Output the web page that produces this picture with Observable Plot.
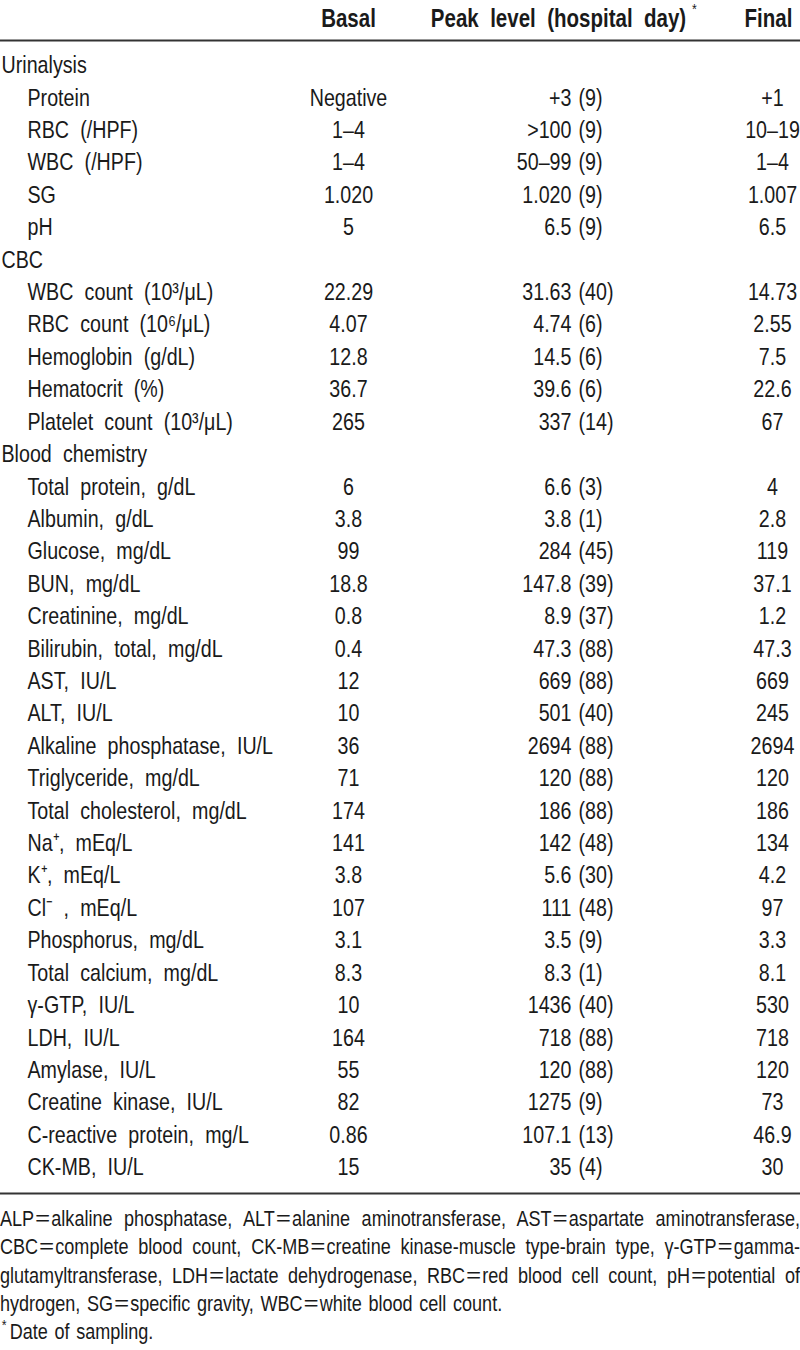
<!DOCTYPE html>
<html>
<head>
<meta charset="utf-8">
<script src="https://cdn.jsdelivr.net/npm/d3@7"></script>
<script src="https://cdn.jsdelivr.net/npm/@observablehq/plot@0.6"></script>
<style>
  html, body { margin: 0; padding: 0; background: #fff; }
  #wrap { width: 800px; overflow: hidden; }
  #wrap svg text { word-spacing: 7px; }
  .fnbox { width: 800px; height: 145px; overflow: hidden; }
  .fn { width: 975.6px; transform: scaleX(0.82); transform-origin: 0 0;
        font-family: "Liberation Sans", Arial, sans-serif;
        font-size: 22px; line-height: 28.3px; color: #1a1a1a; word-spacing: 0; }
  .fn div { text-align: justify; text-align-last: justify; white-space: nowrap; height: 28.3px; }
  .fn div.last { text-align-last: left; word-spacing: 2px; }
  .fn .eq { display: inline-block; font-family: "Noto Sans CJK SC", "Liberation Sans", sans-serif;
            font-size: 21px; word-spacing: 0; line-height: 22px; }
  .fn sup { font-size: 15px; vertical-align: 9px; line-height: 0; margin-right: 4px; margin-left: 2px; }
</style>
</head>
<body>
<div id="wrap"></div>
<script>
// ---- data ----
const headers = ["Basal", "Peak level (hospital day)", "Final"];
const sections = ["Urinalysis", "CBC", "Blood chemistry"];
const sectionItems = [
  ["Protein", "RBC (/HPF)", "WBC (/HPF)", "SG", "pH"],
  ["WBC count (10³/μL)", "RBC count (10⁶/μL)", "Hemoglobin (g/dL)", "Hematocrit (%)", "Platelet count (10³/μL)"],
  ["Total protein, g/dL", "Albumin, g/dL", "Glucose, mg/dL", "BUN, mg/dL", "Creatinine, mg/dL",
   "Bilirubin, total, mg/dL", "AST, IU/L", "ALT, IU/L", "Alkaline phosphatase, IU/L", "Triglyceride, mg/dL",
   "Total cholesterol, mg/dL", "Na⁺, mEq/L", "K⁺, mEq/L", "Cl⁻ , mEq/L", "Phosphorus, mg/dL",
   "Total calcium, mg/dL", "γ-GTP, IU/L", "LDH, IU/L", "Amylase, IU/L", "Creatine kinase, IU/L",
   "C-reactive protein, mg/L", "CK-MB, IU/L"]
];
const basal = [
  "Negative", "1–4", "1–4", "1.020", "5",
  "22.29", "4.07", "12.8", "36.7", "265",
  "6", "3.8", "99", "18.8", "0.8", "0.4", "12", "10", "36", "71", "174",
  "141", "3.8", "107", "3.1", "8.3", "10", "164", "55", "82", "0.86", "15"
];
const peak = [
  "+3", ">100", "50–99", "1.020", "6.5",
  "31.63", "4.74", "14.5", "39.6", "337",
  "6.6", "3.8", "284", "147.8", "8.9", "47.3", "669", "501", "2694", "120", "186",
  "142", "5.6", "111", "3.5", "8.3", "1436", "718", "120", "1275", "107.1", "35"
];
const peakDay = [
  9, 9, 9, 9, 9,
  40, 6, 6, 6, 14,
  3, 1, 45, 39, 37, 88, 88, 40, 88, 88, 88,
  48, 30, 48, 9, 1, 40, 88, 88, 9, 13, 4
];
const finalVals = [
  "+1", "10–19", "1–4", "1.007", "6.5",
  "14.73", "2.55", "7.5", "22.6", "67",
  "4", "2.8", "119", "37.1", "1.2", "47.3", "669", "245", "2694", "120", "186",
  "134", "4.2", "97", "3.3", "8.1", "530", "718", "120", "73", "46.9", "30"
];
const footLines = [
  "ALP=alkaline phosphatase, ALT=alanine aminotransferase, AST=aspartate aminotransferase,",
  "CBC=complete blood count, CK-MB=creatine kinase-muscle type-brain type, γ-GTP=gamma-",
  "glutamyltransferase, LDH=lactate dehydrogenase, RBC=red blood cell count, pH=potential of",
  "hydrogen, SG=specific gravity, WBC=white blood cell count."
];
const footNote = "Date of sampling.";

// ---- build rows ----
const rows = [];
let k = 0;
sections.forEach((s, si) => {
  rows.push({i: rows.length, label: s, group: true});
  sectionItems[si].forEach(lab => {
    rows.push({i: rows.length, label: lab, group: false,
      basal: basal[k], peak: peak[k], day: `(${peakDay[k]})`, fin: finalVals[k]});
    k++;
  });
});
const items = rows.filter(d => !d.group);

// ---- layout ----
const COL = {label: 1, indent: 27, basal: 348, peakEnd: 571, dayStart: 578, fin: 772};
const HEAD_X = [348, 558, 768];
const HEAD_ROW = -1.43, TOP_RULE = -0.77, BOTTOM_RULE = 34.8;
const FONT = '"Liberation Sans", Arial, sans-serif';
const INK = "#1a1a1a";
const FS = 24;
const SQUEEZE = 0.82; // condensed face emulation

const chart = Plot.plot({
  width: 800,
  height: 1205,
  margin: 0,
  x: {type: "linear", domain: [0, 800], range: [0, 800], axis: null},
  y: {type: "linear", domain: [0, 34], range: [65, 1167], axis: null},
  style: {fontFamily: FONT, color: INK, background: "#fff", overflow: "visible"},
  marks: [
    Plot.text(headers, {x: (d, j) => HEAD_X[j], y: () => HEAD_ROW, text: d => d,
      fontWeight: "bold", fontSize: 25, fill: INK}),
    Plot.text(["*"], {x: () => 694, y: () => HEAD_ROW - 0.32, text: d => d, fontSize: 15, fill: INK}),
    Plot.ruleY([TOP_RULE, BOTTOM_RULE], {stroke: "#333", strokeWidth: 2}),
    Plot.text(rows, {x: d => d.group ? COL.label : COL.indent, y: "i", text: "label",
      textAnchor: "start", fontSize: FS, fill: INK}),
    Plot.text(items, {x: () => COL.basal, y: "i", text: "basal", fontSize: FS, fill: INK}),
    Plot.text(items, {x: () => COL.peakEnd, y: "i", text: "peak", textAnchor: "end", fontSize: FS, fill: INK}),
    Plot.text(items, {x: () => COL.dayStart, y: "i", text: "day", textAnchor: "start", fontSize: FS, fill: INK}),
    Plot.text(items, {x: () => COL.fin, y: "i", text: "fin", fontSize: FS, fill: INK})
  ]
});

// emulate a condensed typeface: squeeze each label horizontally about its anchor
chart.querySelectorAll("text").forEach(t => {
  const tr = t.getAttribute("transform");
  if (tr && tr.includes("translate")) {
    t.setAttribute("transform", tr + ` scale(${SQUEEZE},1)`);
  } else {
    const x = +(t.getAttribute("x") || 0);
    t.setAttribute("transform", `${tr || ""} translate(${x},0) scale(${SQUEEZE},1) translate(${-x},0)`);
  }
});

const wrap = document.getElementById("wrap");
wrap.appendChild(chart);
const box = document.createElement("div");
box.className = "fnbox";
const fn = document.createElement("div");
fn.className = "fn";
function addLine(t, cls) {
  const d = document.createElement("div");
  if (cls) d.className = cls;
  t.split("=").forEach((part, j) => {
    if (j > 0) {
      const s = document.createElement("span");
      s.className = "eq";
      s.textContent = "\uFF1D";
      d.appendChild(s);
    }
    d.appendChild(document.createTextNode(part));
  });
  fn.appendChild(d);
  return d;
}
footLines.forEach((t, j) => addLine(t, j === footLines.length - 1 ? "last" : ""));
const last = document.createElement("div");
last.className = "last";
last.innerHTML = "<sup>*</sup>";
last.appendChild(document.createTextNode(footNote));
fn.appendChild(last);
box.appendChild(fn);
wrap.appendChild(box);
</script>
</body>
</html>
